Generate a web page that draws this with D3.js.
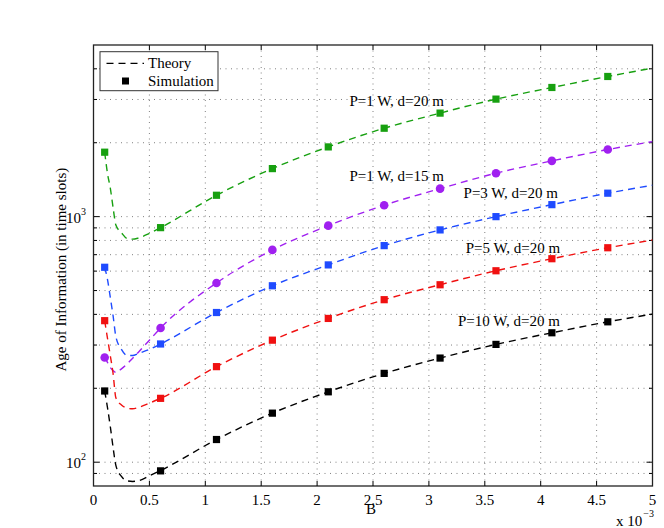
<!DOCTYPE html>
<html>
<head>
<meta charset="utf-8">
<script src="https://cdn.jsdelivr.net/npm/d3@7"></script>
<style>
  body { margin: 0; background: #fff; }
  text { font-family: "Liberation Serif", "Times New Roman", serif; fill: #000; }
</style>
</head>
<body>
<div id="wrapper"></div>
<script>
// B values (x 10^-3)
const simB = [0.1, 0.6, 1.1, 1.6, 2.1, 2.6, 3.1, 3.6, 4.1, 4.6]
const theoryB = [0.1, 0.125, 0.15, 0.175, 0.2, 0.25, 0.3, 0.35, 0.4, 0.5, 0.6, 1.1, 1.6, 2.1, 2.6, 3.1, 3.6, 4.1, 4.6, 5]

// P=1 W, d=20 m
const theoryP1d20 = [1830, 1500, 1310, 1090, 925, 860, 815, 810, 818, 855, 902, 1222, 1569, 1923, 2291, 2640, 3010, 3357, 3722, 4027]
const simP1d20 = [1830, 902, 1222, 1569, 1923, 2291, 2640, 3010, 3357, 3722]
// P=1 W, d=15 m
const theoryP1d15 = [268, 255, 243, 236, 232, 240, 251, 265, 280, 314, 352, 537, 732, 919, 1113, 1300, 1503, 1687, 1876, 2022]
const simP1d15 = [267, 352, 537, 732, 919, 1113, 1300, 1503, 1687, 1876]
// P=3 W, d=20 m
const theoryP3d20 = [622, 555, 470, 395, 325, 288, 272, 272, 277, 288, 303, 407, 523, 636, 762, 883, 1000, 1119, 1246, 1343]
const simP3d20 = [622, 303, 407, 523, 636, 762, 883, 1000, 1119, 1246]
// P=5 W, d=20 m
const theoryP5d20 = [377, 320, 272, 230, 183, 171, 166, 165, 167, 174, 182, 245, 314, 385, 459, 528, 602, 674, 747, 803]
const simP5d20 = [377, 182, 245, 314, 385, 459, 528, 602, 674, 747]
// P=10 W, d=20 m
const theoryP10d20 = [195, 167, 140, 115, 97, 87.5, 84, 83.5, 84, 88, 92.5, 123.7, 158.4, 193.5, 230, 265.5, 301.8, 336.6, 373, 401]
const simP10d20 = [195, 92.2, 123.7, 158.4, 193.5, 230, 265.5, 301.8, 336.6, 373]

const seriesNames = ["P=1 W, d=20 m", "P=1 W, d=15 m", "P=3 W, d=20 m", "P=5 W, d=20 m", "P=10 W, d=20 m"]
const seriesColors = ["#17a010", "#a020f0", "#1f4bff", "#f01010", "#000000"]
const seriesMarkers = ["square", "circle", "square", "square", "square"]
// text annotation anchors (B, value)
const labelB = [2.29, 2.29, 3.31, 3.33, 3.26]
const labelValue = [2827, 1398, 1186, 712, 358]

const xTicks = [0, 0.5, 1, 1.5, 2, 2.5, 3, 3.5, 4, 4.5, 5]
const yMajorTicks = [100, 1000]
const yMinorTicks = [90, 200, 300, 400, 500, 600, 700, 800, 900, 2000, 3000, 4000]

function drawChart() {
  const theory = [theoryP1d20, theoryP1d15, theoryP3d20, theoryP5d20, theoryP10d20]
  const sim = [simP1d20, simP1d15, simP3d20, simP5d20, simP10d20]
  const series = seriesNames.map((name, i) => ({
    name,
    color: seriesColors[i],
    marker: seriesMarkers[i],
    theory: theoryB.map((b, j) => ({ b, v: theory[i][j] })),
    sim: simB.map((b, j) => ({ b, v: sim[i][j] })),
    label: { b: labelB[i], v: labelValue[i] },
  }))

  // 1. dimensions
  const dimensions = {
    width: 664,
    height: 528,
    margins: { top: 45, right: 11.5, bottom: 42, left: 93.5 },
  }
  dimensions.boundedWidth = dimensions.width - dimensions.margins.left - dimensions.margins.right
  dimensions.boundedHeight = dimensions.height - dimensions.margins.top - dimensions.margins.bottom

  // 2. canvas
  const wrapper = d3.select("#wrapper")
    .append("svg")
    .attr("width", dimensions.width)
    .attr("height", dimensions.height)

  const bounds = wrapper.append("g")
    .attr("transform", `translate(${dimensions.margins.left},${dimensions.margins.top})`)

  bounds.append("defs").append("clipPath")
    .attr("id", "plot-clip")
    .append("rect")
    .attr("width", dimensions.boundedWidth)
    .attr("height", dimensions.boundedHeight)

  // 3. scales
  const xScale = d3.scaleLinear()
    .domain([0, 5])
    .range([0, dimensions.boundedWidth])

  const yScale = d3.scaleLog()
    .domain([80, 5000])
    .range([dimensions.boundedHeight, 0])

  // 4. grid
  const grid = bounds.append("g")
    .attr("stroke", "#808080")
    .attr("stroke-width", 1)
    .attr("stroke-dasharray", "1,4.5")

  grid.selectAll(".xgrid")
    .data(xTicks.slice(1, -1))
    .join("line")
    .attr("x1", d => xScale(d))
    .attr("x2", d => xScale(d))
    .attr("y1", 0)
    .attr("y2", dimensions.boundedHeight)

  grid.selectAll(".ygrid")
    .data(yMajorTicks.concat(yMinorTicks))
    .join("line")
    .attr("x1", 0)
    .attr("x2", dimensions.boundedWidth)
    .attr("y1", d => yScale(d))
    .attr("y2", d => yScale(d))

  // 5. axes (box with inward ticks)
  const axisTicks = bounds.append("g").attr("stroke", "#000").attr("stroke-width", 1)

  xTicks.slice(1, -1).forEach(t => {
    axisTicks.append("line")
      .attr("x1", xScale(t)).attr("x2", xScale(t))
      .attr("y1", dimensions.boundedHeight).attr("y2", dimensions.boundedHeight - 5)
    axisTicks.append("line")
      .attr("x1", xScale(t)).attr("x2", xScale(t))
      .attr("y1", 0).attr("y2", 5)
  })

  const yTickList = yMajorTicks.map(v => ({ v, len: 6 }))
    .concat(yMinorTicks.map(v => ({ v, len: 3.5 })))
  yTickList.forEach(t => {
    axisTicks.append("line")
      .attr("x1", 0).attr("x2", t.len)
      .attr("y1", yScale(t.v)).attr("y2", yScale(t.v))
    axisTicks.append("line")
      .attr("x1", dimensions.boundedWidth).attr("x2", dimensions.boundedWidth - t.len)
      .attr("y1", yScale(t.v)).attr("y2", yScale(t.v))
  })

  bounds.append("rect")
    .attr("width", dimensions.boundedWidth)
    .attr("height", dimensions.boundedHeight)
    .attr("fill", "none")
    .attr("stroke", "#222")
    .attr("stroke-width", 1.3)

  // tick labels
  bounds.append("g")
    .selectAll("text")
    .data(xTicks)
    .join("text")
    .attr("x", d => xScale(d))
    .attr("y", dimensions.boundedHeight + 19)
    .attr("text-anchor", "middle")
    .attr("font-size", 15)
    .text(d => d)

  const yLabels = bounds.append("g")
    .selectAll("text")
    .data(yMajorTicks)
    .join("text")
    .attr("x", -7.5)
    .attr("y", d => yScale(d) + 6)
    .attr("text-anchor", "end")
    .attr("font-size", 15)
  yLabels.append("tspan").text("10")
  yLabels.append("tspan")
    .attr("font-size", 10)
    .attr("dy", -8)
    .text(d => Math.round(Math.log10(d)))

  // axis titles
  bounds.append("text")
    .attr("x", dimensions.boundedWidth / 2 - 2)
    .attr("y", dimensions.boundedHeight + 28)
    .attr("text-anchor", "middle")
    .attr("font-size", 15)
    .text("B")

  const expLabel = bounds.append("text")
    .attr("x", dimensions.boundedWidth - 36.5)
    .attr("y", dimensions.boundedHeight + 40)
    .attr("font-size", 15)
  expLabel.append("tspan").text("x 10")
  expLabel.append("tspan").attr("font-size", 10).attr("dy", -9).attr("dx", 1).text("\u22123")

  bounds.append("text")
    .attr("transform", `rotate(-90)`)
    .attr("x", -(yScale(1000) + 53))
    .attr("y", -dimensions.margins.left + 66)
    .attr("text-anchor", "middle")
    .attr("font-size", 15)
    .text("Age of Information (in time slots)")

  // 6. data
  const lineGenerator = d3.line()
    .x(d => xScale(d.b))
    .y(d => yScale(d.v))
    .curve(d3.curveMonotoneX)

  const plot = bounds.append("g").attr("clip-path", "url(#plot-clip)")

  plot.selectAll(".theory")
    .data(series)
    .join("path")
    .attr("class", "theory")
    .attr("d", d => lineGenerator(d.theory))
    .attr("fill", "none")
    .attr("stroke", d => d.color)
    .attr("stroke-width", 1.4)
    .attr("stroke-dasharray", "7,5")

  series.forEach(s => {
    const g = plot.append("g").attr("fill", s.color)
    if (s.marker === "circle") {
      g.selectAll("circle")
        .data(s.sim)
        .join("circle")
        .attr("cx", d => xScale(d.b))
        .attr("cy", d => yScale(d.v))
        .attr("r", 4.3)
    } else {
      g.selectAll("rect")
        .data(s.sim)
        .join("rect")
        .attr("x", d => xScale(d.b) - 3.6)
        .attr("y", d => yScale(d.v) - 3.6)
        .attr("width", 7.2)
        .attr("height", 7.2)
    }
  })

  bounds.selectAll(".series-label")
    .data(series)
    .join("text")
    .attr("class", "series-label")
    .attr("x", d => xScale(d.label.b))
    .attr("y", d => yScale(d.label.v))
    .attr("font-size", 15)
    .text(d => d.name)

  // 7. legend
  const legend = bounds.append("g").attr("transform", "translate(6.5,6.7)")
  legend.append("rect")
    .attr("width", 118)
    .attr("height", 39)
    .attr("fill", "#fff")
    .attr("stroke", "#333")
    .attr("stroke-width", 1)
  legend.append("line")
    .attr("x1", 6.5).attr("x2", 44)
    .attr("y1", 11.7).attr("y2", 11.7)
    .attr("stroke", "#000")
    .attr("stroke-width", 1.4)
    .attr("stroke-dasharray", "7,5")
  legend.append("text")
    .attr("x", 48)
    .attr("y", 16.8)
    .attr("font-size", 15)
    .text("Theory")
  legend.append("rect")
    .attr("x", 25.5 - 3.5).attr("y", 29.3 - 3.5)
    .attr("width", 7).attr("height", 7)
    .attr("fill", "#000")
  legend.append("text")
    .attr("x", 48)
    .attr("y", 34.5)
    .attr("font-size", 15)
    .text("Simulation")
}

drawChart()
</script>
</body>
</html>
